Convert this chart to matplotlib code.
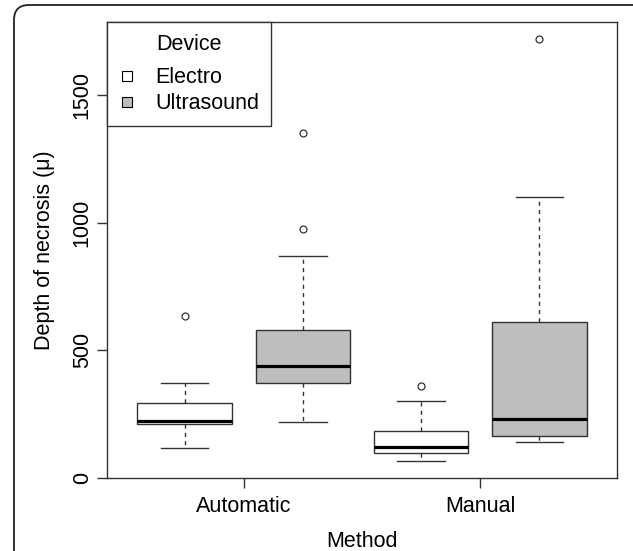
import matplotlib.pyplot as plt
import matplotlib.patches as mpatches
from matplotlib.lines import Line2D

plt.rcParams['font.family'] = ['Liberation Sans', 'DejaVu Sans']
plt.rcParams['font.size'] = 15.5

# 数据 (Automatic/Manual x Electro/Ultrasound)
methods = ['Automatic', 'Manual']
devices = ['Electro', 'Ultrasound']
whislo = [117, 219, 66, 143]
q1 = [211, 374, 98, 164]
med = [225, 440, 124, 231]
q3 = [294, 580, 186, 612]
whishi = [374, 869, 302, 1100]
fliers = [[633], [974, 1350], [362], [1717]]
colors = ['white', '#BEBEBE']

stats = []
for i in range(4):
    stats.append(dict(whislo=whislo[i], q1=q1[i], med=med[i], q3=q3[i],
                      whishi=whishi[i], fliers=fliers[i]))

fig = plt.figure(figsize=(6.33, 5.51), dpi=100)
ax = fig.add_axes([0.1686, 0.1319, 0.9752 - 0.1686, 0.9606 - 0.1319])

edge = '#333333'
bp = ax.bxp(stats, positions=[1, 2, 3, 4], widths=0.8, patch_artist=True,
            boxprops=dict(edgecolor=edge, linewidth=1.0),
            medianprops=dict(color='black', linewidth=2.3, solid_capstyle='butt'),
            whiskerprops=dict(color=edge, linewidth=1.0, linestyle=(0, (3, 3))),
            capprops=dict(color=edge, linewidth=1.0),
            flierprops=dict(marker='o', markersize=5, markerfacecolor='none',
                            markeredgecolor=edge, markeredgewidth=0.9),
            capwidths=0.4)
for i, b in enumerate(bp['boxes']):
    b.set_facecolor(colors[i % 2])

ax.set_xlim(0.34, 4.66)
ax.set_ylim(0, 1785)
ax.set_xticks([1.5, 3.5])
ax.set_xticklabels(methods)
ax.set_yticks([0, 500, 1000, 1500])
ax.set_yticklabels(['0', '500', '1000', '1500'], rotation=90, va='center')
ax.tick_params(axis='both', length=7, width=1.0, color=edge)
ax.tick_params(axis='x', pad=6)
ax.tick_params(axis='y', pad=3)
for s in ax.spines.values():
    s.set_color(edge)
    s.set_linewidth(1.0)

ax.set_xlabel('Method', labelpad=10)
ax.set_ylabel('Depth of necrosis (\u03bc)', labelpad=12)

handles = [Line2D([], [], linestyle='none', marker='s', markersize=7.3,
                  markerfacecolor=c, markeredgecolor='black', markeredgewidth=0.8)
           for c in colors]
leg = ax.legend(handles, devices, title='Device', loc='upper left',
                borderaxespad=0, fancybox=False, framealpha=1,
                edgecolor=edge, handlelength=0.75,
                handletextpad=0.96, borderpad=0.55, labelspacing=0.25,
                title_fontsize=15.5)
leg.get_frame().set_linewidth(1.0)
leg._legend_box.sep = 9

# 圆角外框
border = mpatches.FancyBboxPatch((0.14, -1.0), 6.35, 6.46,
                                 boxstyle='round,pad=0,rounding_size=0.15',
                                 transform=fig.dpi_scale_trans, fill=False,
                                 edgecolor='#222222', linewidth=1.3)
fig.patches.append(border)

fig.savefig('out.png', dpi=100)
